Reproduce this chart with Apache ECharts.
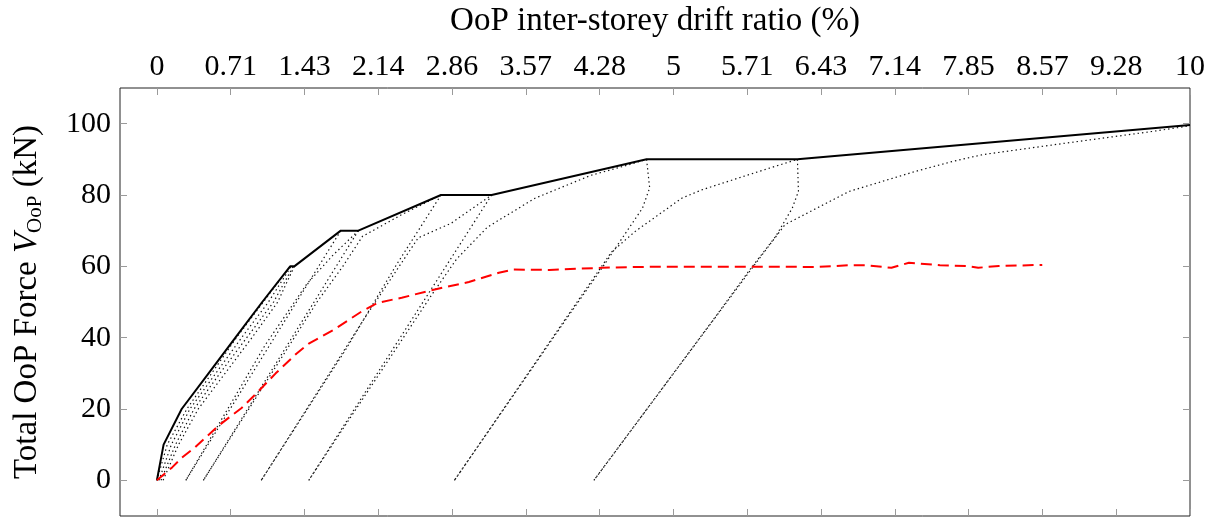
<!DOCTYPE html>
<html><head><meta charset="utf-8">
<script src="https://cdn.jsdelivr.net/npm/echarts@6/dist/echarts.min.js"></script>
<style>html,body{margin:0;padding:0;background:#fff}#c{width:1225px;height:522px}</style>
</head><body><div id="c"></div>
<script>
// Tick positions (drift ratio %) and their printed labels
const xTickValues = [0, 0.7143, 1.4286, 2.1429, 2.8571, 3.5714, 4.2857, 5, 5.7143, 6.4286, 7.1429, 7.8571, 8.5714, 9.2857, 10];
const xTickLabels = ['0','0.71','1.43','2.14','2.86','3.57','4.28','5','5.71','6.43','7.14','7.85','8.57','9.28','10'];
const yTickValues = [0, 20, 40, 60, 80, 100];

// Envelope (solid black)
const envelope = [[0,0],[0.065,10],[0.24,20],[0.5,30],[0.76,40],[1.02,50],[1.29,60],[1.33,60],[1.78,70],[1.95,70],[2.75,80],[3.24,80],[4.74,90],[6.2,90],[10,99.6]];

// Cyclic load / unload branches (dotted)
const cycle60a = [[0,0],[0.1,10],[0.29,20],[0.53,30],[0.77,40],[1.03,50],[1.29,60]];
const cycle60b = [[0.02,0],[0.14,10],[0.32,20],[0.57,30],[0.82,40],[1.08,50],[1.3,60]];
const cycle60c = [[0.04,0],[0.18,10],[0.36,20],[0.61,30],[0.87,40],[1.13,50],[1.32,60]];
const cycle60d = [[0.06,0],[0.21,10],[0.4,20],[0.66,30],[0.92,40],[1.17,50],[1.33,60]];
const unload70a = [[1.78,70],[0.28,0]];
const reload70b = [[0.28,0],[1.05,38],[1.45,55],[1.7,63],[1.95,70]];
const unload70b = [[1.95,70],[0.45,0]];
const reload80a = [[0.45,0],[1.55,50],[1.8,60],[1.99,68.4],[2.37,74.5],[2.75,80]];
const unload80a = [[2.75,80],[2.32,60.5],[1.82,36.3],[1.01,0]];
const reload80b = [[1.01,0],[2.0,45],[2.53,68],[2.85,72.1],[3.24,80]];
const unload80b = [[3.24,80],[1.47,0]];
const reload90a = [[1.47,0],[2.66,52],[2.9,62],[3.2,71],[3.66,79.1],[4.2,85.5],[4.57,88.5],[4.74,90]];
const unload90a = [[4.74,90],[4.77,82],[4.7,76.3],[4.31,59.6],[3.95,44.7],[2.88,0]];
const reload90b = [[2.88,0],[4.4,64],[4.63,69.8],[5.08,79.1],[5.28,81.5],[5.73,85.7],[6.2,90]];
const unload90b = [[6.2,90],[6.21,81],[6.15,76.3],[5.99,68.4],[5.73,58.7],[5.4,45.6],[4.23,0]];
const reload100 = [[4.23,0],[5.8,61],[6.08,71.7],[6.7,81],[7.34,86.6],[7.7,89.4],[7.99,91.3],[8.66,94],[9.63,97.8],[10,99.4]];
const dottedBranches = [cycle60a,cycle60b,cycle60c,cycle60d,unload70a,reload70b,unload70b,reload80a,unload80a,reload80b,unload80b,reload90a,unload90a,reload90b,unload90b,reload100];

// Red dashed curve
const redCurve = [[0,0],[0.15,3.7],[0.24,6.3],[0.37,9.3],[0.6,15.4],[0.82,20.3],[0.95,24],[1.15,30],[1.35,35.5],[1.47,38.3],[1.71,42.2],[1.98,47.3],[2.14,49.8],[2.37,51.2],[2.7,53.6],[3.02,55.6],[3.31,58.2],[3.45,59.1],[3.8,59],[4.31,59.6],[4.8,59.9],[5.2,59.9],[6.05,59.9],[6.37,59.8],[6.7,60.3],[6.86,60.3],[7.11,59.6],[7.28,61.0],[7.58,60.3],[7.83,60.1],[7.95,59.6],[8.15,60.1],[8.57,60.4]];

const FONT = 'Liberation Serif';
const FS = 30;   // tick labels
const NFS = 33;  // axis names
const tickStyle = {show:true, inside:true, length:7, lineStyle:{color:'#9a9a9a', width:1}};

const chart = echarts.init(document.getElementById('c'), null, {renderer:'canvas'});
const series = [];
dottedBranches.forEach(b => series.push({
  type:'line', data:b, symbol:'none', silent:true,
  lineStyle:{color:'#111', width:1.2, type:[1.4,3]}
}));
series.push({type:'line', data:envelope, symbol:'none', silent:true, lineStyle:{color:'#000', width:2}});
series.push({type:'line', data:redCurve, symbol:'none', silent:true, lineStyle:{color:'#ff0000', width:2, type:[11,6]}});

chart.setOption({
  animation:false,
  grid:{left:119, right:35, top:88, bottom:6, show:true, borderColor:'#222', borderWidth:1, backgroundColor:'transparent'},
  xAxis:[{
    type:'value', position:'top', min:-0.357, max:10,
    axisLine:{show:false, onZero:false}, splitLine:{show:false},
    axisTick:Object.assign({customValues:xTickValues}, tickStyle),
    axisLabel:{customValues:xTickValues, margin:6, color:'#000', fontFamily:FONT, fontSize:FS,
      formatter:(v)=>{let best=0;for(let i=0;i<xTickValues.length;i++){if(Math.abs(xTickValues[i]-v)<Math.abs(xTickValues[best]-v))best=i;}return xTickLabels[best];}},
    name:'OoP inter-storey drift ratio (%)', nameLocation:'middle', nameGap:50,
    nameTextStyle:{color:'#000', fontFamily:FONT, fontSize:NFS}
  },{
    type:'value', position:'bottom', min:-0.357, max:10,
    axisLine:{show:false, onZero:false}, splitLine:{show:false},
    axisTick:Object.assign({customValues:xTickValues}, tickStyle),
    axisLabel:{show:false}
  }],
  yAxis:[{
    type:'value', position:'left', min:-10, max:110,
    axisLine:{show:false, onZero:false}, splitLine:{show:false},
    axisTick:Object.assign({customValues:yTickValues}, tickStyle),
    axisLabel:{customValues:yTickValues, margin:9, color:'#000', fontFamily:FONT, fontSize:FS},
    name:'Total OoP Force {i|V}{sub|OoP} (kN)', nameLocation:'middle', nameGap:74, nameRotate:90,
    nameTextStyle:{color:'#000', fontFamily:FONT, fontSize:NFS, lineHeight:38,
      rich:{i:{fontStyle:'italic', fontFamily:FONT, fontSize:NFS, lineHeight:38, color:'#000'},
            sub:{fontFamily:FONT, fontSize:21, lineHeight:19, verticalAlign:'bottom', color:'#000'}}}
  },{
    type:'value', position:'right', min:-10, max:110,
    axisLine:{show:false, onZero:false}, splitLine:{show:false},
    axisTick:Object.assign({customValues:yTickValues}, tickStyle),
    axisLabel:{show:false}
  }],
  series: series
});
</script></body></html>
